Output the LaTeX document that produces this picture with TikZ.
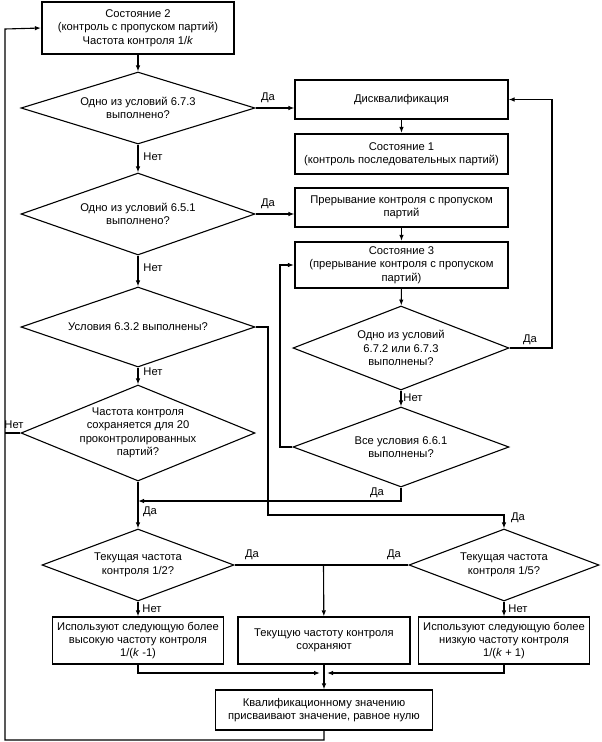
\documentclass[tikz,border=0pt]{standalone}
\usepackage{fontspec}
\setmainfont{Liberation Sans}
\usetikzlibrary{arrows.meta,shapes.geometric}
\begin{document}
\begin{tikzpicture}[x=1pt,y=-1pt,
  every node/.style={font=\fontsize{11.2}{13.4}\selectfont},
  line/.style={line width=1.1pt},
  arr/.style={line width=1.1pt,-{Latex[length=6pt,width=4.5pt]}},
  box/.style={draw,line width=1.1pt,rectangle,inner sep=0pt,align=center},
  tbox/.style={draw,line width=2.2pt,rectangle,inner sep=0pt,align=center},
  dia/.style={draw,line width=1.1pt,diamond,inner sep=0pt},
  lbl/.style={inner sep=0pt}]
\useasboundingbox (0,0) rectangle (602,742);

% left column
\node[tbox,minimum width=192pt,minimum height=52pt] (s2) at (138,28)
  {Состояние 2\\(контроль с пропуском партий)\\Частота контроля 1/\textit{k}};
\node[dia,minimum width=234pt,minimum height=72pt,
  label={[align=center]center:Одно из условий 6.7.3\\выполнено?}] (d1) at (138,108) {};
\node[dia,minimum width=234pt,minimum height=82pt,
  label={[align=center]center:Одно из условий 6.5.1\\выполнено?}] (d2) at (138,214) {};
\node[dia,minimum width=234pt,minimum height=80pt,
  label={[align=center]center:Условия 6.3.2 выполнены?}] (d3) at (138,327) {};
\node[dia,minimum width=234pt,minimum height=96pt,
  label={[align=center]center:Частота контроля\\сохраняется для 20\\проконтролированных\\партий?}] (d4) at (138,433) {};

% right column
\node[box,minimum width=213pt,minimum height=39pt] (dq) at (401.5,99.5) {Дисквалификация};
\node[tbox,minimum width=213pt,minimum height=40pt] (s1) at (401.5,154)
  {Состояние 1\\(контроль последовательных партий)};
\node[box,minimum width=213pt,minimum height=39pt] (pr) at (401.5,207.5)
  {Прерывание контроля с пропуском\\партий};
\node[tbox,minimum width=213pt,minimum height=46pt] (s3) at (401.5,265)
  {Состояние 3\\(прерывание контроля с пропуском\\партий)};
\node[dia,minimum width=216pt,minimum height=84pt,
  label={[align=center]center:Одно из условий\\6.7.2 или 6.7.3\\выполнены?}] (d5) at (401,348) {};
\node[dia,minimum width=216pt,minimum height=80pt,
  label={[align=center]center:Все условия 6.6.1\\выполнены?}] (d6) at (401,447) {};

% bottom part
\node[dia,minimum width=192pt,minimum height=72pt,
  label={[align=center]center:Текущая частота\\контроля 1/2?}] (d7) at (138,565) {};
\node[dia,minimum width=190pt,minimum height=72pt,
  label={[align=center]center:Текущая частота\\контроля 1/5?}] (d8) at (504,565) {};
\node[box,minimum width=171pt,minimum height=47pt] (b1) at (138,640.5)
  {Используют следующую более\\высокую частоту контроля\\1/(\textit{k} -1)};
\node[box,minimum width=172pt,minimum height=47pt] (b2) at (324,640.5)
  {Текущую частоту контроля\\сохраняют};
\node[box,minimum width=171pt,minimum height=47pt] (b3) at (504,640.5)
  {Используют следующую более\\низкую частоту контроля\\1/(\textit{k} + 1)};
\node[box,minimum width=217pt,minimum height=40pt] (b4) at (324,710)
  {Квалификационному значению\\присваивают значение, равное нулю};

% helper coordinates
\coordinate (j1) at (138,501);
\coordinate (m1) at (320,673);
\coordinate (m2) at (327,673);
\coordinate (t1) at (323.5,565);
\coordinate (f1) at (5,433);

% connectors
\draw[arr] (s2) -- (d1);
\draw[arr] (d1) -- (d2);
\draw[arr] (d2) -- (d3);
\draw[arr] (d3) -- (d4);
\draw[arr] (d4) -- (d7);
\draw[arr] (d1.east) -- (d1.east -| dq.west);
\draw[arr] (d2.east) -- (d2.east -| pr.west);
\draw[arr] (dq) -- (s1);
\draw[arr] (pr) -- (s3);
\draw[arr] (s3) -- (d5);
\draw[arr] (d5) -- (d6);
\draw[arr] (d5.east) -- (552,348) |- (dq.east);
\draw[arr] (d6.west) -- (280,447) |- (s3.west);
\draw[arr] (d6.south) |- (j1);
\draw[arr] (d3.east) -- (268,327) -- (268,515) -| (d8.north);
\draw[line] (d7.east) -- (d8.west);
\draw[arr] (t1) -- (b2);
\draw[arr] (d7) -- (b1);
\draw[arr] (d8) -- (b3);
\draw[arr] (b1.south) |- (m1);
\draw[arr] (b3.south) |- (m2);
\draw[arr] (b2) -- (b4);
\draw[arr] (b4.south) -- (324,740) -| (5,29) -- (s2.west);
\draw[line] (d4.west) -- (f1);

% edge labels
\node[lbl] (l1) at (268,98) {Да};
\node[lbl] (l2) at (268,204) {Да};
\node[lbl] (l3) at (153,157) {Нет};
\node[lbl] (l4) at (153,268) {Нет};
\node[lbl] (l5) at (153,372) {Нет};
\node[lbl] (l6) at (14,425) {Нет};
\node[lbl] (l7) at (150,512) {Да};
\node[lbl] (l8) at (377,493) {Да};
\node[lbl] (l9) at (530,340) {Да};
\node[lbl] (l10) at (413,398) {Нет};
\node[lbl] (l11) at (518,518) {Да};
\node[lbl] (l12) at (252,555) {Да};
\node[lbl] (l13) at (394,555) {Да};
\node[lbl] (l14) at (152,609) {Нет};
\node[lbl] (l15) at (518,609) {Нет};
\end{tikzpicture}
\end{document}
